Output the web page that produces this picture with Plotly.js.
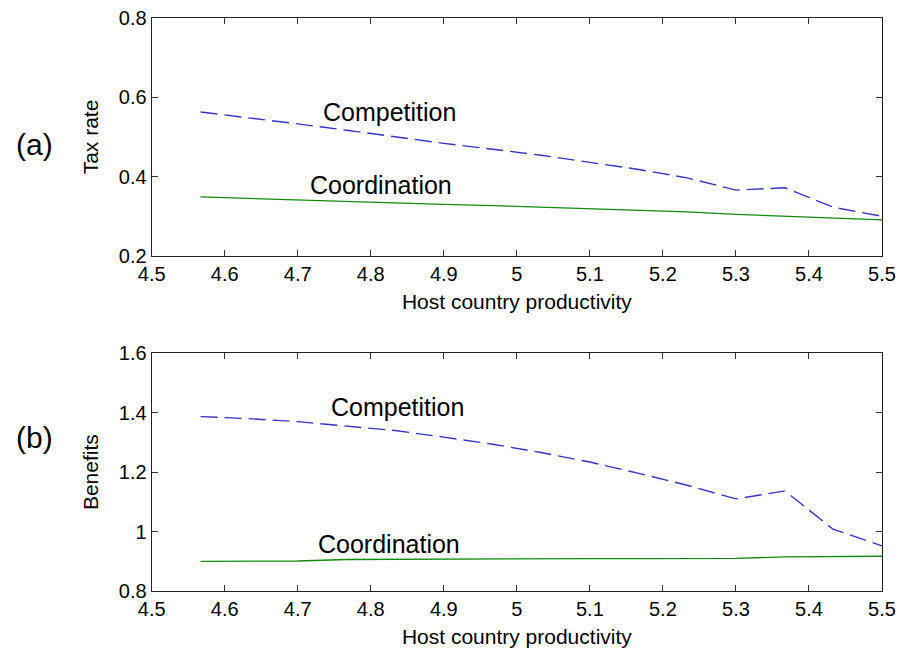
<!DOCTYPE html>
<html><head><meta charset="utf-8">
<script src="https://cdn.plot.ly/plotly-3.0.1.min.js"></script>
<style>html,body{margin:0;padding:0;background:#fff;}#chart{width:905px;height:654px;}</style>
</head><body><div id="chart"></div>
<script>
const productivity = [4.567, 4.633, 4.7, 4.767, 4.833, 4.9, 4.967, 5.033, 5.1, 5.167, 5.233, 5.3, 5.367, 5.433, 5.5];
const taxCompetition = [0.563, 0.549, 0.533, 0.517, 0.500, 0.484, 0.469, 0.454, 0.436, 0.418, 0.397, 0.366, 0.372, 0.323, 0.300];
const taxCoordination = [0.349, 0.345, 0.341, 0.337, 0.333, 0.330, 0.327, 0.323, 0.319, 0.315, 0.311, 0.305, 0.300, 0.296, 0.291];
const benefitsCompetition = [1.387, 1.380, 1.370, 1.356, 1.340, 1.318, 1.294, 1.266, 1.234, 1.196, 1.156, 1.110, 1.137, 1.008, 0.952];
const benefitsCoordination = [0.900, 0.900, 0.901, 0.906, 0.907, 0.907, 0.908, 0.909, 0.909, 0.909, 0.909, 0.910, 0.915, 0.916, 0.917];
const xTicks = [4.5, 4.6, 4.7, 4.8, 4.9, 5, 5.1, 5.2, 5.3, 5.4, 5.5];
const xTickText = ['4.5','4.6','4.7','4.8','4.9','5','5.1','5.2','5.3','5.4','5.5'];
const taxTicks = [0.2, 0.4, 0.6, 0.8];
const taxTickText = ['0.2','0.4','0.6','0.8'];
const benTicks = [0.8, 1, 1.2, 1.4, 1.6];
const benTickText = ['0.8','1','1.2','1.4','1.6'];

const blue = '#3535c0', green = '#138a13';
const dashPat = '17px,7px';
const traces = [
  {x: productivity, y: taxCompetition, xaxis:'x', yaxis:'y', mode:'lines', line:{color:blue, width:1.4, dash:dashPat}},
  {x: productivity, y: taxCoordination, xaxis:'x', yaxis:'y', mode:'lines', line:{color:green, width:1.3}},
  {x: productivity, y: benefitsCompetition, xaxis:'x2', yaxis:'y2', mode:'lines', line:{color:blue, width:1.4, dash:dashPat}},
  {x: productivity, y: benefitsCoordination, xaxis:'x2', yaxis:'y2', mode:'lines', line:{color:green, width:1.3}}
];
const font = {family:'Liberation Sans, Arial, sans-serif', color:'#000'};
function xax(anchor){
  return {domain:[0.1676,0.9746], range:[4.5,5.5], anchor:anchor, tickmode:'array', tickvals:xTicks, ticktext:xTickText,
    ticks:'inside', ticklen:6, tickcolor:'#333', showline:true, linecolor:'#222', linewidth:1, mirror:'ticks',
    showgrid:false, zeroline:false, tickfont:{...font, size:20}, automargin:false,
    title:{text:'Host country productivity', font:{...font, size:21}, standoff:10}};
}
function yax(anchor, dom, rng, tv, tt, title){
  return {domain:dom, range:rng, anchor:anchor, tickmode:'array', tickvals:tv, ticktext:tt,
    ticks:'inside', ticklen:6, tickcolor:'#333', showline:true, linecolor:'#222', linewidth:1, mirror:'ticks',
    showgrid:false, zeroline:false, tickfont:{...font, size:20}, automargin:false,
    title:{text:title, font:{...font, size:21}, standoff:14}};
}
function ann(text, px, py, size){
  return {text:text, x:px/905, y:1-py/654, xref:'paper', yref:'paper', xanchor:'center', yanchor:'middle',
    showarrow:false, font:{...font, size:size}};
}
const layout = {
  width:905, height:654, margin:{l:0,r:0,t:0,b:0}, showlegend:false,
  paper_bgcolor:'#fff', plot_bgcolor:'#fff',
  xaxis: xax('y'),
  yaxis: yax('x', [0.6086,0.9725], [0.2,0.8], taxTicks, taxTickText, 'Tax rate'),
  xaxis2: xax('y2'),
  yaxis2: yax('x2', [0.0963,0.4598], [0.8,1.6], benTicks, benTickText, 'Benefits'),
  annotations:[
    ann('Competition', 389, 112, 25),
    ann('Coordination', 381, 185, 25),
    ann('Competition', 397, 407, 25),
    ann('Coordination', 389, 544, 25),
    ann('(a)', 34, 144, 30),
    ann('(b)', 34, 437, 30)
  ]
};
Plotly.newPlot('chart', traces, layout, {staticPlot:true, displayModeBar:false});
</script></body></html>
